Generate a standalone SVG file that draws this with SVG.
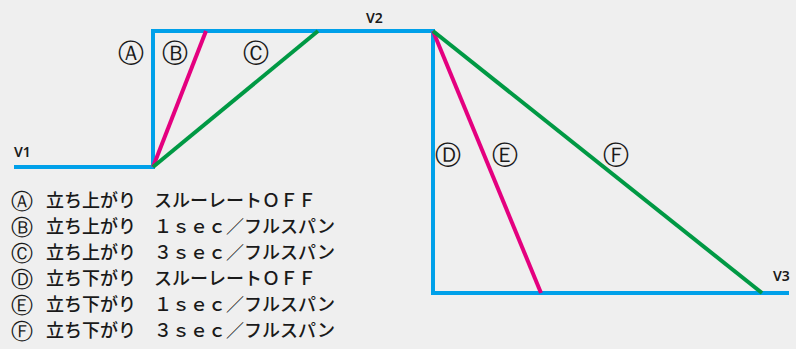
<svg xmlns="http://www.w3.org/2000/svg" width="796" height="349" viewBox="0 0 796 349">
<style>
.ln{fill:none;stroke-width:4;stroke-linejoin:miter;stroke-linecap:butt}
.blue{stroke:#00a0e9}
.mag{stroke:#e4007f}
.grn{stroke:#009944}
.v{font-family:"Noto Sans","Liberation Sans",sans-serif;font-weight:600;font-size:14px;fill:#1a1a1a}
.c{font-family:"DejaVu Sans",sans-serif;font-size:26px;fill:#1a1a1a;text-anchor:middle}
.cl{font-family:"DejaVu Sans",sans-serif;font-size:22px;fill:#1a1a1a;text-anchor:middle}
.t{font-family:"Noto Sans CJK JP","Noto Sans",sans-serif;font-size:18px;font-weight:500;fill:#1a1a1a}
</style>
<rect width="796" height="349" fill="#efefef"/>
<g id="connectors">
<path class="ln blue" d="M14,167 H153 V31 H433 V293 H789"/>
<path class="ln mag" d="M153,167 L206,31"/>
<path class="ln grn" d="M153,167 L318,31"/>
<path class="ln mag" d="M433,31 L541,293"/>
<path class="ln grn" d="M433,31 L762,293"/>
</g>
<g id="labels">
<text class="v" x="14" y="157">V1</text>
<text class="v" x="366" y="23">V2</text>
<text class="v" x="773" y="281">V3</text>
<text class="c" x="131" y="62">Ⓐ</text>
<text class="c" x="175" y="62">Ⓑ</text>
<text class="c" x="256" y="62">Ⓒ</text>
<text class="c" x="448" y="164">Ⓓ</text>
<text class="c" x="505" y="164">Ⓔ</text>
<text class="c" x="616" y="164">Ⓕ</text>
</g>
<g id="legend">
<text class="cl" x="22" y="209">Ⓐ</text>
<text class="t" x="46" y="207">立ち上がり　スルーレートＯＦＦ</text>
<text class="cl" x="22" y="235">Ⓑ</text>
<text class="t" x="46" y="233">立ち上がり　１ｓｅｃ／フルスパン</text>
<text class="cl" x="22" y="261">Ⓒ</text>
<text class="t" x="46" y="259">立ち上がり　３ｓｅｃ／フルスパン</text>
<text class="cl" x="22" y="287">Ⓓ</text>
<text class="t" x="46" y="285">立ち下がり　スルーレートＯＦＦ</text>
<text class="cl" x="22" y="313">Ⓔ</text>
<text class="t" x="46" y="311">立ち下がり　１ｓｅｃ／フルスパン</text>
<text class="cl" x="22" y="339">Ⓕ</text>
<text class="t" x="46" y="337">立ち下がり　３ｓｅｃ／フルスパン</text>
</g>
</svg>
